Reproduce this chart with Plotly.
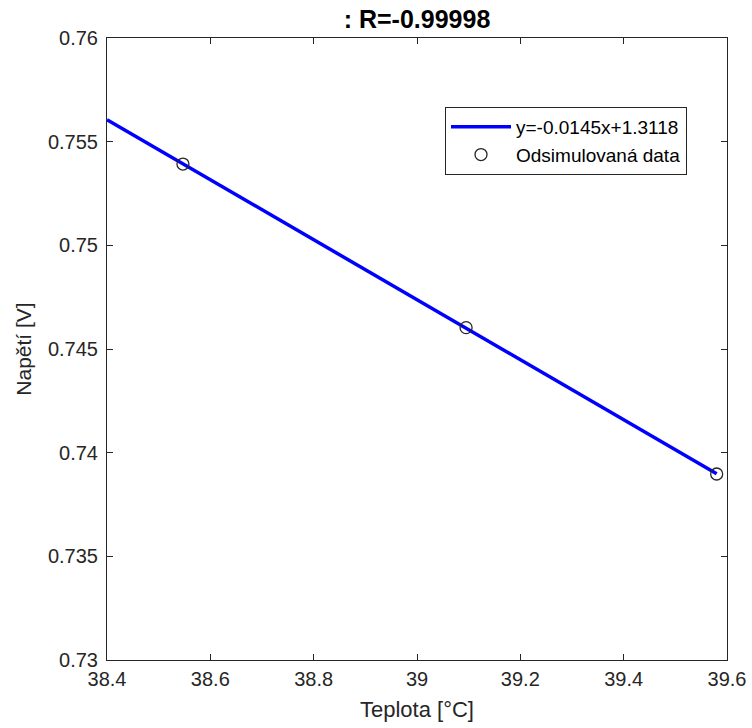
import numpy as np
import plotly.graph_objects as go

teplota = [38.547, 39.095, 39.580]
napeti = [0.75392, 0.74603, 0.73897]
x_start = 38.4
title_text = ": R=-0.99998"
fit_label = "y=-0.0145x+1.3118"
data_label = "Odsimulovaná data"
x_ticks = [38.4, 38.6, 38.8, 39.0, 39.2, 39.4, 39.6]
x_tick_text = ["38.4", "38.6", "38.8", "39", "39.2", "39.4", "39.6"]
y_ticks = [0.73, 0.735, 0.74, 0.745, 0.75, 0.755, 0.76]
y_tick_text = ["0.73", "0.735", "0.74", "0.745", "0.75", "0.755", "0.76"]

k, q = np.polyfit(teplota, napeti, 1)
line_x = [x_start, teplota[-1]]
line_y = [k * v + q for v in line_x]

W, H = 752, 728
L, R, T, B = 107, 25, 38, 68

fig = go.Figure()
fig.add_trace(go.Scatter(x=line_x, y=line_y, mode="lines", name=fit_label,
                         line=dict(color="#0000ff", width=3.5)))
fig.add_trace(go.Scatter(x=teplota, y=napeti, mode="markers", name=data_label,
                         marker=dict(symbol="circle-open", size=12,
                                     color="#262626", line=dict(width=1.3, color="#262626"))))

axis_common = dict(showline=True, linecolor="#262626", linewidth=1, mirror="ticks",
                   ticks="inside", ticklen=6, tickcolor="#262626", showgrid=False,
                   zeroline=False, tickfont=dict(size=20, color="#262626"))

fig.update_layout(
    width=W, height=H,
    margin=dict(l=L, r=R, t=T, b=B, autoexpand=False),
    paper_bgcolor="white", plot_bgcolor="white",
    font=dict(family="Liberation Sans, Arial, sans-serif", color="#262626"),
    title=dict(text="<b>" + title_text + "</b>", x=(L + (W - L - R) / 2) / W, xanchor="center",
               y=1 - 19 / H, yanchor="middle", font=dict(size=25, color="#000000")),
    xaxis=dict(range=[38.4, 39.6], tickvals=x_ticks, ticktext=x_tick_text,
               ticklabelstandoff=1,
               title=dict(text="Teplota [°C]", font=dict(size=22, color="#262626"), standoff=12),
               **axis_common),
    yaxis=dict(range=[0.73, 0.76], tickvals=y_ticks, ticktext=y_tick_text,
               ticklabelstandoff=4,
               title=dict(text="Napětí [V]", font=dict(size=21, color="#262626"), standoff=10),
               **axis_common),
    legend=dict(x=(687 - L) / (W - L - R), y=(H - B - 107) / (H - T - B),
                xanchor="right", yanchor="top", bgcolor="white",
                bordercolor="#262626", borderwidth=1, font=dict(size=19, color="#000000"),
                tracegroupgap=0, itemwidth=60),
    showlegend=True,
)

fig.write_html("out.html", config={"displayModeBar": False},
               post_script="document.body.style.margin='0';document.body.style.padding='0';")
